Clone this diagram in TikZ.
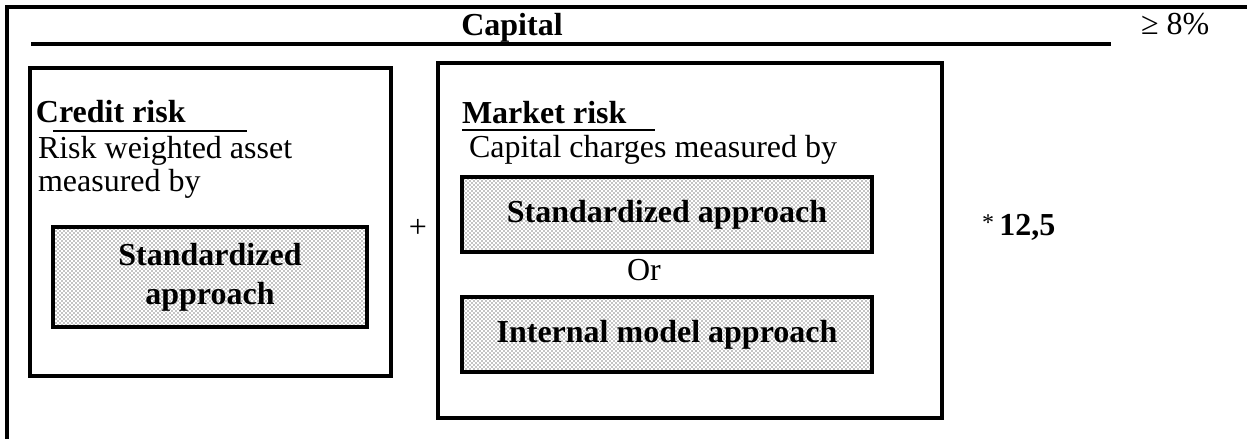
\documentclass[tikz,border=0pt]{standalone}
\usepackage{fontspec}
\setmainfont{Liberation Serif}
\usetikzlibrary{fit,patterns}
\begin{document}
\begin{tikzpicture}[x=0.75pt,y=-0.75pt,
  every node/.style={inner sep=0pt,outer sep=0pt,font=\fontsize{24}{29}\selectfont},
  frame/.style={line width=2.3pt},
  bigbox/.style={draw,line width=2.6pt,fit={#1},inner sep=0pt},
  shadebox/.style={draw,line width=2.6pt,fit={#1},inner sep=0pt,
    pattern=crosshatch dots,pattern color=black},
  boxtext/.style={align=center,font=\fontsize{24}{29}\selectfont\bfseries},
  uline/.style={line width=1.1pt},
  lbl/.style={anchor=base west},
]
\useasboundingbox (0,0) rectangle (1247,439);
% outer frame
\coordinate (otl) at (7,7);
\coordinate (otr) at (1247,7);
\coordinate (obl) at (7,439);
\draw[frame] (obl) -- (otl) -- (otr);
% capital line
\coordinate (cl1) at (31,44);
\coordinate (cl2) at (1111,44);
\draw[frame] (cl1) -- (cl2);
\node[anchor=base,font=\fontsize{24}{29}\selectfont\bfseries] (capital) at (512,36) {Capital};
\node[lbl] (ge) at (1141,35) {≥ 8\%};
% credit box
\node[bigbox={(30,68) (391,376)}] (credit) {};
\node[lbl,font=\fontsize{24}{29}\selectfont\bfseries] (credittitle) at (36,122) {Credit risk};
\coordinate (cu1) at (53,131);
\coordinate (cu2) at (247,131);
\draw[uline] (cu1) -- (cu2);
\node[lbl] (rwa) at (38,158) {Risk weighted asset};
\node[lbl] (mby) at (38,191) {measured by};
\node[shadebox={(53,227) (367,327)}] (csa) {};
\node[boxtext] (csat) at (csa.center) {Standardized\\approach};
% plus
\node (plus) at (418,228) {+};
% market box
\node[bigbox={(438,63) (942,418)}] (market) {};
\node[lbl,font=\fontsize{24}{29}\selectfont\bfseries] (markettitle) at (462,123) {Market risk};
\coordinate (mu1) at (462,130);
\coordinate (mu2) at (655,130);
\draw[uline] (mu1) -- (mu2);
\node[lbl] (ccm) at (469,157) {Capital charges measured by};
\node[shadebox={(462,177) (872,252)}] (msa) {};
\node[boxtext] (msat) at (msa.center) {Standardized approach};
\node[anchor=base] (or) at (644,280) {Or};
\node[shadebox={(462,297) (872,372)}] (ima) {};
\node[boxtext] (imat) at (ima.center) {Internal model approach};
% factor
\node[lbl] (factor) at (982,235) {\raisebox{0.3ex}{\fontsize{18}{18}\selectfont *}\,\textbf{12,5}};
\end{tikzpicture}
\end{document}
